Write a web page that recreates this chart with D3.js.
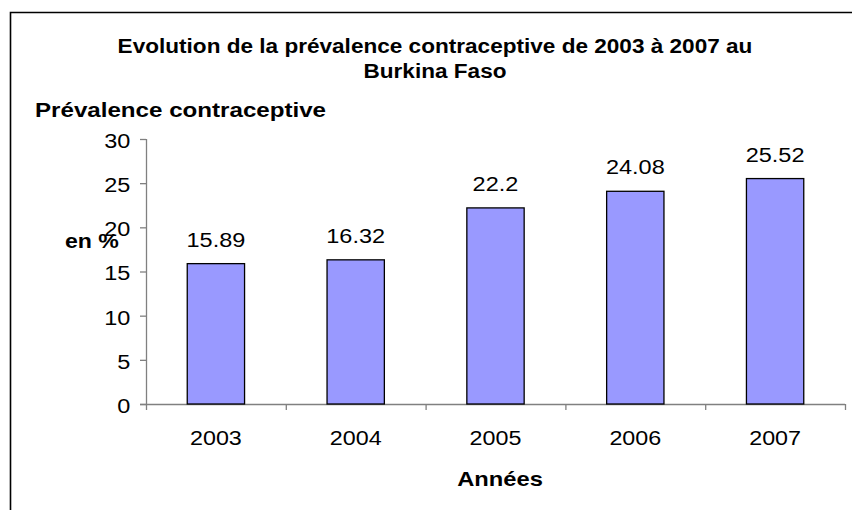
<!DOCTYPE html>
<html><head><meta charset="utf-8">
<script src="https://cdn.jsdelivr.net/npm/d3@7"></script>
<style>body{margin:0;background:#fff}svg{display:block;font-family:Arial,"Liberation Sans",sans-serif}</style>
</head><body><svg id="c" width="852" height="510"></svg>
<script>
const years = ["2003","2004","2005","2006","2007"];
const values = [15.89, 16.32, 22.2, 24.08, 25.52];
const valueLabels = ["15.89","16.32","22.2","24.08","25.52"];
const yTicks = [0,5,10,15,20,25,30];
const titleLines = ["Evolution de la prévalence contraceptive de 2003 à 2007 au","Burkina Faso"];

const svg = d3.select("#c");
const FS = 21;
function txt(x, y, s, o = {}) {
  return svg.append("text")
    .attr("transform", `translate(${x},${y}) scale(${o.sx || 1.12},1)`)
    .attr("text-anchor", o.anchor || "start")
    .attr("font-weight", o.bold ? "bold" : "normal")
    .attr("font-size", o.fs || FS).text(s);
}
// frame
svg.append("path").attr("d","M10.5,520 V12.5 H860").attr("fill","none").attr("stroke","#000").attr("stroke-width",1.6);

const x = d3.scaleBand().domain(years).range([146,845]).paddingInner(0.59).paddingOuter(0.295);
const y = d3.scaleLinear().domain([0,30]).range([404,139]);

titleLines.forEach((t,i)=>txt(435, 53+i*25, t, {anchor:"middle", bold:true, sx:1.075}));
txt(35, 117, "Prévalence contraceptive", {bold:true, sx:1.15});
txt(65, 248, "en %", {bold:true, sx:1.1});

const gy = svg.append("g").attr("transform","translate(146,0)")
  .call(d3.axisLeft(y).tickValues(yTicks).tickSize(6).tickPadding(8));
gy.selectAll("path,line").attr("stroke","#808080").attr("stroke-width",1.3);
gy.select(".domain").attr("d","M0.5,139V404.5");
gy.selectAll("text").attr("font-size",FS).attr("fill","#000").attr("dy","0.4em")
  .attr("transform","scale(1.12,1)").attr("font-family","Arial, Liberation Sans, sans-serif");

const xTickAxis = d3.axisBottom(d3.scaleLinear().domain([0,5]).range([146,845])).tickValues([0,1,2,3,4,5]).tickSize(6).tickFormat("");
const gx = svg.append("g").attr("transform","translate(0,404)").call(xTickAxis);
gx.selectAll("path,line").attr("stroke","#808080").attr("stroke-width",1.3);
gx.select(".domain").attr("d","M140,0.5H845");

svg.selectAll(".bar").data(values).join("rect").attr("class","bar")
  .attr("x",(d,i)=>x(years[i])).attr("width",x.bandwidth())
  .attr("y",d=>y(d)).attr("height",d=>y(0)-y(d))
  .attr("fill","#9999FF").attr("stroke","#000").attr("stroke-width",1.3);

values.forEach((d,i)=>txt(x(years[i])+x.bandwidth()/2, y(d)-17, valueLabels[i], {anchor:"middle"}));
years.forEach(d=>txt(x(d)+x.bandwidth()/2, 445, d, {anchor:"middle", sx:1.11}));

txt(500, 486, "Années", {anchor:"middle", bold:true, sx:1.13});
</script></body></html>
